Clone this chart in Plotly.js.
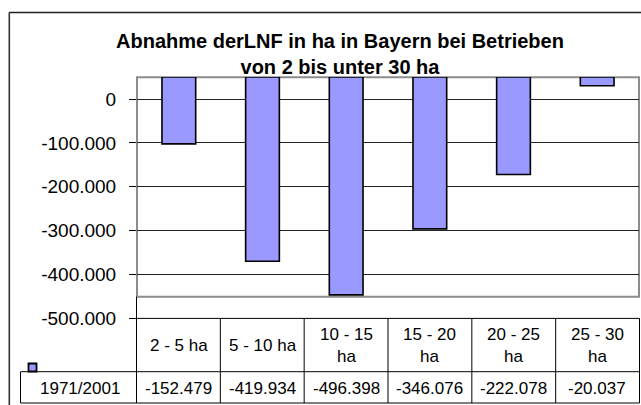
<!DOCTYPE html>
<html>
<head>
<meta charset="utf-8">
<script src="https://cdn.plot.ly/plotly-3.0.1.min.js"></script>
<style>
  html, body { margin: 0; padding: 0; background: #ffffff; }
  #chart { width: 641px; height: 405px; }
</style>
</head>
<body>
<div id="chart"></div>
<script>
// ---- data ----
const categories = ['2 - 5 ha', '5 - 10 ha', '10 - 15 ha', '15 - 20 ha', '20 - 25 ha', '25 - 30 ha'];
const headerLabels = ['2 - 5 ha', '5 - 10 ha', '10 - 15<br>ha', '15 - 20<br>ha', '20 - 25<br>ha', '25 - 30<br>ha'];
const seriesName = '1971/2001';
const values = [-152479, -419934, -496398, -346076, -222078, -20037];
const yTickVals = [0, -100000, -200000, -300000, -400000, -500000];
const yTickText = ['0', '-100.000', '-200.000', '-300.000', '-400.000', '-500.000'];
const titleText = 'Abnahme derLNF in ha in Bayern bei Betrieben<br>von 2 bis unter 30 ha';

// ---- layout geometry (pixels) ----
const W = 641, H = 405;
const L = 137, R = 639, T = 77, B = 319;
const plotW = R - L, plotH = B - T;
const pxPerUnit = 0.0004389;          // vertical scale of both axes
const zeroPx = 99;                     // where the "0" tick label sits
const totalUnits = plotH / pxPerUnit;
const yTop = (zeroPx - T) / pxPerUnit;
const yRange = [yTop - totalUnits, yTop];
const y2Range = [-totalUnits, 0];      // bars hang from the top of the plot box

function px(x) { return (x - L) / plotW; }
function py(y) { return 1 - (y - T) / plotH; }
function fmtDe(v) {
  const s = Math.abs(v).toString().replace(/\B(?=(\d{3})+(?!\d))/g, '.');
  return (v < 0 ? '-' : '') + s;
}

const FONT = 'Liberation Sans, Arial, sans-serif';
const barColor = '#9999FF';

const axisHolder = {
  type: 'scatter', mode: 'markers',
  x: [], y: [],
  xaxis: 'x', yaxis: 'y',
  showlegend: false, hoverinfo: 'skip'
};

const trace = {
  type: 'bar',
  x: categories,
  y: values,
  xaxis: 'x',
  yaxis: 'y2',
  name: seriesName,
  marker: { color: barColor, line: { color: '#000000', width: 1.6 } },
  hoverinfo: 'none'
};

const shapes = [];
// outer chart frame
shapes.push({ type: 'line', xref: 'paper', yref: 'paper', x0: px(9), x1: px(660), y0: py(12.5), y1: py(12.5), line: { color: '#222', width: 1.6 } });
shapes.push({ type: 'line', xref: 'paper', yref: 'paper', x0: px(9.3), x1: px(9.3), y0: py(12.5), y1: py(420), line: { color: '#333', width: 1.6 } });
// grey plot box
shapes.push({ type: 'rect', xref: 'paper', yref: 'paper', x0: px(137), x1: px(639), y0: py(77.3), y1: py(296.7), line: { color: '#8c8c8c', width: 2 }, layer: 'below' });
// data table
const colW = (639.5 - 136.5) / categories.length;
const tTop = 318.4, tMid = 371.7, tBot = 403;
for (let i = 0; i <= categories.length; i++) {
  const xx = 136.5 + i * colW;
  shapes.push({ type: 'line', xref: 'paper', yref: 'paper', x0: px(xx), x1: px(xx), y0: py(i === 0 ? 296.7 : tTop), y1: py(tBot), line: { color: '#000', width: 1 } });
}
shapes.push({ type: 'line', xref: 'paper', yref: 'paper', x0: px(136.5), x1: px(639.5), y0: py(tTop), y1: py(tTop), line: { color: '#000', width: 1 } });
shapes.push({ type: 'line', xref: 'paper', yref: 'paper', x0: px(20.5), x1: px(639.5), y0: py(tMid), y1: py(tMid), line: { color: '#000', width: 1 } });
shapes.push({ type: 'line', xref: 'paper', yref: 'paper', x0: px(20.5), x1: px(639.5), y0: py(tBot), y1: py(tBot), line: { color: '#000', width: 1 } });
shapes.push({ type: 'line', xref: 'paper', yref: 'paper', x0: px(20.5), x1: px(20.5), y0: py(tMid), y1: py(tBot), line: { color: '#000', width: 1 } });
// legend key
shapes.push({ type: 'rect', xref: 'paper', yref: 'paper', x0: px(28.5), x1: px(36.5), y0: py(363.5), y1: py(371.5), fillcolor: barColor, line: { color: '#000', width: 1.8 } });

const annotations = [];
categories.forEach((c, i) => {
  annotations.push({ xref: 'x', yref: 'paper', x: c, y: py(345), text: headerLabels[i], showarrow: false, xanchor: 'center', yanchor: 'middle', font: { family: FONT, size: 17, color: '#000' } });
  annotations.push({ xref: 'x', yref: 'paper', x: c, y: py(388), text: fmtDe(values[i]), showarrow: false, xanchor: 'center', yanchor: 'middle', font: { family: FONT, size: 17, color: '#000' } });
});
annotations.push({ xref: 'paper', yref: 'paper', x: px(80), y: py(388), text: seriesName, showarrow: false, xanchor: 'center', yanchor: 'middle', font: { family: FONT, size: 17, color: '#000' } });

const layout = {
  width: W, height: H,
  margin: { l: L, r: W - R, t: T, b: H - B, pad: 0 },
  paper_bgcolor: '#ffffff',
  plot_bgcolor: 'rgba(0,0,0,0)',
  showlegend: false,
  bargap: 0.597,
  title: {
    text: titleText,
    font: { family: FONT, size: 20, color: '#000', weight: 'bold' },
    xref: 'container', yref: 'container',
    x: 340 / W, xanchor: 'center',
    y: 1 - 48 / H, yanchor: 'top'
  },
  xaxis: {
    type: 'category',
    range: [-0.5, categories.length - 0.5],
    showticklabels: false, ticks: '', showgrid: false, zeroline: false, showline: false,
    fixedrange: true
  },
  yaxis: {
    range: yRange,
    tickvals: yTickVals,
    ticktext: yTickText,
    ticks: 'outside', ticklen: 7, tickwidth: 1, tickcolor: '#000',
    ticklabelstandoff: 9,
    tickfont: { family: FONT, size: 19, color: '#000' },
    showgrid: true, gridcolor: '#222', gridwidth: 1,
    zeroline: false, showline: false,
    fixedrange: true
  },
  yaxis2: {
    overlaying: 'y',
    range: y2Range,
    visible: false,
    fixedrange: true
  },
  shapes: shapes,
  annotations: annotations
};

Plotly.newPlot('chart', [axisHolder, trace], layout, { displayModeBar: false, staticPlot: true });
</script>
</body>
</html>
